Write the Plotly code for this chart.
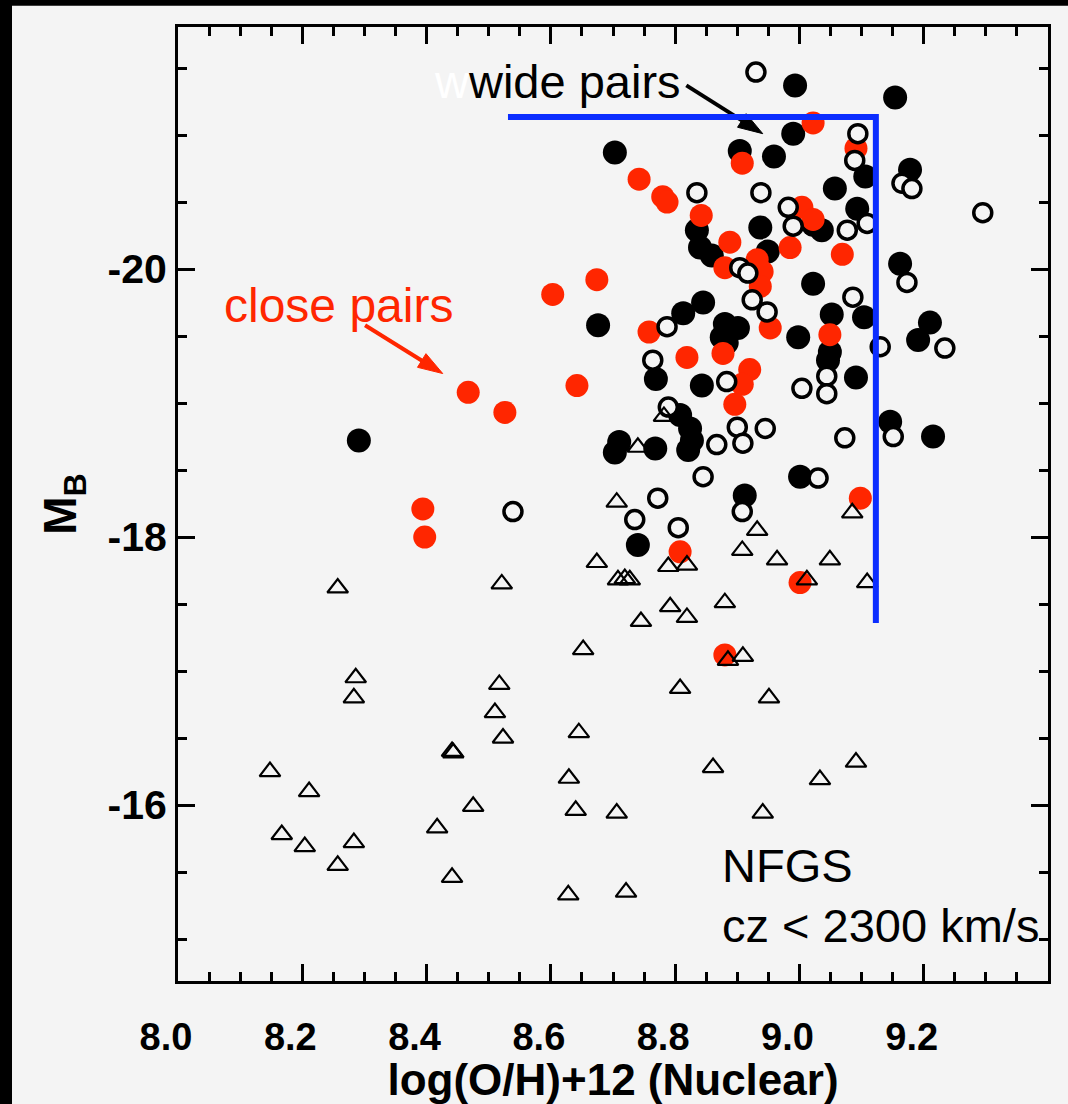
import plotly.graph_objects as go

# --- NFGS sample, cz < 2300 km/s: nuclear metallicity vs. absolute B magnitude ---

# isolated field galaxies (open triangles)
field_oh = [8.257, 8.521, 8.674, 8.652, 8.286, 8.283, 8.517, 8.510, 8.523, 8.645,
            8.441, 8.443, 8.148, 8.211, 8.475, 8.629, 8.640, 8.167, 8.204, 8.283,
            8.257, 8.417, 8.441, 8.628, 8.808, 8.951, 8.861, 9.033, 9.091, 8.706,
            8.941, 8.721, 8.909, 8.885, 8.706, 8.740, 8.782, 8.708, 8.719, 8.727,
            8.789, 8.819, 8.792, 8.819, 8.745, 8.880, 8.908, 8.932, 8.964, 9.049,
            9.012, 9.085, 9.109]
field_mb = [-17.62, -17.65, -17.81, -17.16, -16.95, -16.80, -16.90, -16.69, -16.50, -16.54,
            -16.40, -16.39, -16.25, -16.10, -15.99, -16.20, -15.96, -15.78, -15.69, -15.72,
            -15.55, -15.83, -15.46, -15.33, -16.87, -16.80, -16.28, -16.19, -16.32, -15.94,
            -15.94, -15.35, -17.11, -17.08, -18.26, -18.67, -18.90, -17.68, -17.69, -17.68,
            -17.78, -17.79, -17.48, -17.40, -17.37, -17.51, -17.90, -18.05, -17.83, -17.83,
            -17.68, -18.18, -17.66]

# bright field galaxies (open circles)
bright_oh = [8.930, 9.094, 9.089, 9.165, 9.181, 9.295, 8.835, 8.938, 8.982, 8.990,
             9.077, 9.109, 8.904, 8.917, 8.924, 8.948, 9.086, 9.173, 8.787, 8.764,
             8.883, 9.004, 9.044, 9.044, 9.130, 9.234, 8.789, 8.900, 8.945, 8.909,
             8.867, 9.073, 9.151, 9.030, 8.845, 8.908, 8.772, 8.735, 8.805, 8.539]
bright_mb = [-21.47, -21.01, -20.81, -20.64, -20.60, -20.42, -20.57, -20.57, -20.46, -20.32,
             -20.29, -20.34, -20.01, -19.97, -19.77, -19.68, -19.79, -19.90, -19.57, -19.32,
             -19.16, -19.11, -19.20, -19.07, -19.42, -19.41, -18.97, -18.82, -18.81, -18.70,
             -18.69, -18.74, -18.75, -18.44, -18.45, -18.19, -18.29, -18.13, -18.07, -18.19]

# wide pairs (filled black circles)
wide_oh = [8.993, 9.154, 8.990, 8.703, 8.904, 8.959, 9.178, 9.106, 9.057, 9.093,
           8.937, 9.022, 9.036, 8.835, 8.840, 8.859, 8.949, 9.162, 9.022, 8.845,
           8.813, 8.676, 8.880, 8.901, 8.875, 8.883, 8.998, 9.052, 9.104, 9.210,
           9.191, 9.049, 9.046, 9.091, 8.769, 8.843, 8.808, 8.824, 8.827, 8.821,
           8.710, 8.703, 8.768, 9.146, 9.215, 8.291, 9.001, 8.912, 8.740]
wide_mb = [-21.37, -21.28, -21.01, -20.87, -20.88, -20.84, -20.74, -20.69, -20.60, -20.45,
           -20.31, -20.33, -20.29, -20.29, -20.16, -20.10, -20.13, -20.04, -19.89, -19.75,
           -19.67, -19.58, -19.59, -19.56, -19.49, -19.45, -19.49, -19.66, -19.64, -19.60,
           -19.47, -19.38, -19.32, -19.19, -19.18, -19.13, -18.91, -18.81, -18.72, -18.65,
           -18.71, -18.63, -18.66, -18.86, -18.75, -18.72, -18.45, -18.31, -17.94]

# close pairs (filled red circles)
close_oh = [9.022, 9.091, 8.908, 8.742, 8.780, 8.787, 8.842, 8.888, 8.880, 8.932,
            8.940, 8.937, 8.985, 9.004, 9.022, 9.069, 8.674, 8.603, 8.953, 9.049,
            8.758, 8.819, 8.877, 8.920, 8.908, 8.896, 8.642, 8.467, 8.526, 8.394,
            8.397, 9.098, 8.808, 9.001, 8.880]
close_mb = [-21.09, -20.90, -20.79, -20.67, -20.54, -20.50, -20.40, -20.20, -20.01, -20.07,
            -19.98, -19.87, -20.16, -20.46, -20.37, -20.11, -19.92, -19.81, -19.56, -19.51,
            -19.53, -19.34, -19.37, -19.25, -19.14, -18.99, -19.13, -19.08, -18.93, -18.21,
            -18.00, -18.29, -17.89, -17.66, -17.12]

# axis ticks
x_tickvals = [8.0, 8.2, 8.4, 8.6, 8.8, 9.0, 9.2]
x_ticktext = ["8.0", "8.2", "8.4", "8.6", "8.8", "9.0", "9.2"]
y_tickvals = [-20, -18, -16]
y_ticktext = ["-20", "-18", "-16"]

BG = "#f4f4f4"
RED = "#ff2600"
BLUE = "#0b2dff"

fig = go.Figure()

fig.add_trace(go.Scatter(
    x=wide_oh, y=wide_mb, mode="markers", name="wide pairs",
    marker=dict(symbol="circle", size=24, color="black", line=dict(width=0)),
))
fig.add_trace(go.Scatter(
    x=close_oh, y=close_mb, mode="markers", name="close pairs",
    marker=dict(symbol="circle", size=23, color=RED, line=dict(width=0)),
))
fig.add_trace(go.Scatter(
    x=bright_oh, y=bright_mb, mode="markers", name="field",
    marker=dict(symbol="circle", size=18, color=BG, line=dict(width=3.5, color="black")),
))
fig.add_trace(go.Scatter(
    x=field_oh, y=field_mb, mode="markers", name="field (faint)",
    marker=dict(symbol="triangle-up-open", size=18, color="black", line=dict(width=2.2)),
))

# pointer arrows from the labels to the samples (arrowhead tip sits on the last point)
fig.add_trace(go.Scatter(
    x=[8.301, 8.426], y=[-19.58, -19.22], mode="lines+markers", hoverinfo="skip",
    line=dict(color=RED, width=4),
    marker=dict(symbol="arrow", size=[0, 26], angleref="previous", color=RED,
                opacity=1, line=dict(width=1, color=RED)),
))
fig.add_trace(go.Scatter(
    x=[8.818, 8.941], y=[-21.37, -21.01], mode="lines+markers", hoverinfo="skip",
    line=dict(color="black", width=4),
    marker=dict(symbol="arrow", size=[0, 26], angleref="previous", color="black",
                opacity=1, line=dict(width=1, color="black")),
))

# selection box edges (blue)
fig.add_shape(type="path", xref="x", yref="y",
              path="M 8.531,-21.134 L 9.123,-21.134 L 9.123,-17.358",
              line=dict(color=BLUE, width=6))

# black frame strips along the left and top edges of the page
fig.add_shape(type="rect", xref="paper", yref="paper", x0=-0.2046, x1=-0.1908,
              y0=-0.13, y1=1.03, fillcolor="black", line=dict(width=0), layer="above")
fig.add_shape(type="rect", xref="paper", yref="paper", x0=-0.2046, x1=1.03,
              y0=1.0222, y1=1.03, fillcolor="black", line=dict(width=0), layer="above")

# text labels
fig.add_annotation(x=(222 - 178) / 870, y=(981 - 305) / 954, xref="paper", yref="paper",
                   xanchor="left", yanchor="middle", showarrow=False,
                   text="close pairs", font=dict(family="Liberation Sans", size=48, color=RED))
fig.add_annotation(x=(432 - 178) / 870, y=(981 - 82) / 954, xref="paper", yref="paper",
                   xanchor="left", yanchor="middle", showarrow=False,
                   text="<span style='color:white'>w</span>wide pairs",
                   font=dict(family="Liberation Sans", size=47, color="black"))
fig.add_annotation(x=(720 - 178) / 870, y=(981 - 865) / 954, xref="paper", yref="paper",
                   xanchor="left", yanchor="middle", showarrow=False,
                   text="NFGS", font=dict(family="Liberation Sans", size=47, color="black"))
fig.add_annotation(x=(720 - 178) / 870, y=(981 - 925) / 954, xref="paper", yref="paper",
                   xanchor="left", yanchor="middle", showarrow=False,
                   text="cz &lt; 2300 km/s", font=dict(family="Liberation Sans", size=47, color="black"))

axis_common = dict(
    showgrid=False, zeroline=False, showline=True, linecolor="black", linewidth=3,
    mirror="ticks", ticks="inside", ticklen=17, tickwidth=2.5, tickcolor="black",
)

fig.update_xaxes(
    range=[8.0, 9.4], tickmode="array", tickvals=x_tickvals, ticktext=x_ticktext,
    minor=dict(ticks="inside", tick0=8.0, dtick=0.05, ticklen=9, tickwidth=2.5, tickcolor="black"),
    ticklabelshift=-12, ticklabelstandoff=20,
    tickfont=dict(family="Liberation Sans", size=38, color="black", weight="bold"),
    title=dict(text="log(O/H)+12 (Nuclear)", standoff=4,
               font=dict(family="Liberation Sans", size=44, color="black", weight="bold")),
    **axis_common,
)
fig.update_yaxes(
    range=[-14.687, -21.806], tickmode="array", tickvals=y_tickvals, ticktext=y_ticktext,
    minor=dict(ticks="inside", tick0=-20, dtick=0.5, ticklen=9, tickwidth=2.5, tickcolor="black"),
    ticklabelstandoff=0,
    tickfont=dict(family="Liberation Sans", size=41, color="black", weight="bold"),
    title=dict(text="M<sub>B</sub>", standoff=17,
               font=dict(family="Liberation Sans", size=46, color="black", weight="bold")),
    **axis_common,
)

fig.update_layout(
    width=1068, height=1104,
    margin=dict(l=178, r=20, t=27, b=123, pad=0),
    paper_bgcolor=BG, plot_bgcolor=BG,
    showlegend=False,
)

fig.write_html("out.html")
